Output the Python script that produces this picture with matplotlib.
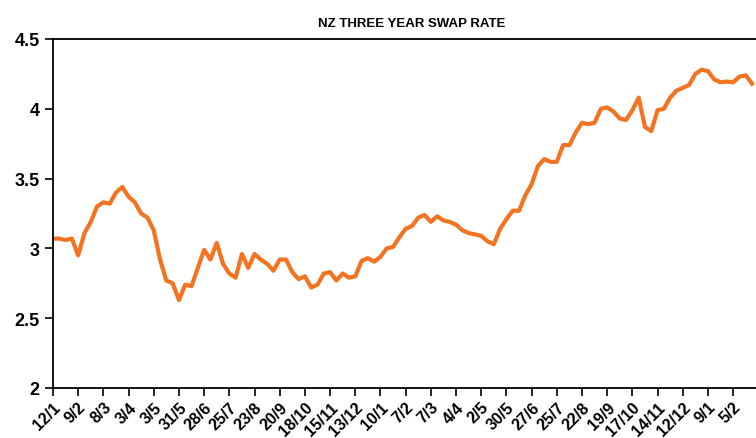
import numpy as np
import matplotlib
matplotlib.use("Agg")
import matplotlib.pyplot as plt

# weekly values
swap_rate = [
    3.07, 3.07, 3.06, 3.07, 2.95, 3.11, 3.19, 3.30, 3.33, 3.32,
    3.40, 3.44, 3.37, 3.33, 3.25, 3.22, 3.13, 2.92, 2.77, 2.75,
    2.63, 2.74, 2.73, 2.86, 2.99, 2.92, 3.04, 2.89, 2.82, 2.79,
    2.96, 2.86, 2.96, 2.92, 2.89, 2.84, 2.92, 2.92, 2.83, 2.78,
    2.80, 2.72, 2.74, 2.82, 2.83, 2.77, 2.82, 2.79, 2.80, 2.91,
    2.93, 2.905, 2.94, 3.00, 3.01, 3.08, 3.14, 3.16, 3.22, 3.24,
    3.19, 3.23, 3.20, 3.19, 3.17, 3.13, 3.11, 3.10, 3.09, 3.05,
    3.03, 3.14, 3.21, 3.27, 3.27, 3.38, 3.46, 3.59, 3.64, 3.62,
    3.62, 3.74, 3.74, 3.83, 3.90, 3.89, 3.90, 4.00, 4.01, 3.98,
    3.93, 3.92, 3.99, 4.08, 3.87, 3.84, 3.99, 4.00, 4.08, 4.13,
    4.15, 4.17, 4.25, 4.28, 4.27, 4.21, 4.19, 4.195, 4.19, 4.23,
    4.24, 4.18,
]
tick_labels = ["12/1", "9/2", "8/3", "3/4", "3/5", "31/5", "28/6", "25/7",
               "23/8", "20/9", "18/10", "15/11", "13/12", "10/1", "7/2", "7/3",
               "4/4", "2/5", "30/5", "27/6", "25/7", "22/8", "19/9", "17/10",
               "14/11", "12/12", "9/1", "5/2"]
y_ticks = [2, 2.5, 3, 3.5, 4, 4.5]
y_labels = ["2", "2.5", "3", "3.5", "4", "4.5"]

weeks = np.arange(len(swap_rate))

plt.rcParams['font.family'] = ['Liberation Sans', 'DejaVu Sans']

fig = plt.figure(figsize=(7.56, 4.39), dpi=100)
ax = fig.add_axes([0.0701, 0.1139, 0.948, 0.795])

ax.plot(weeks, swap_rate, color="#F47321", linewidth=3.0, solid_joinstyle="round")

ax.set_xlim(0, 113.8)
ax.set_ylim(2, 4.5)
ax.set_xticks(np.arange(0, 4 * len(tick_labels), 4))
ax.set_xticklabels(tick_labels, rotation=45, ha="right", rotation_mode="anchor",
                   fontsize=11.5, fontweight="bold")
ax.set_yticks(y_ticks)
ax.set_yticklabels(y_labels, fontsize=13, fontweight="bold")
ax.tick_params(direction="out", length=6, width=1.2, colors="black")
ax.tick_params(axis="x", pad=2)

for side in ["left", "bottom", "top"]:
    ax.spines[side].set_linewidth(1.3)
ax.spines["right"].set_visible(False)

ax.set_title("NZ THREE YEAR SWAP RATE", fontsize=9.5, fontweight="bold",
             family=["Liberation Sans Narrow", "Liberation Sans", "DejaVu Sans"], pad=9)

fig.savefig("out.png", dpi=100)
